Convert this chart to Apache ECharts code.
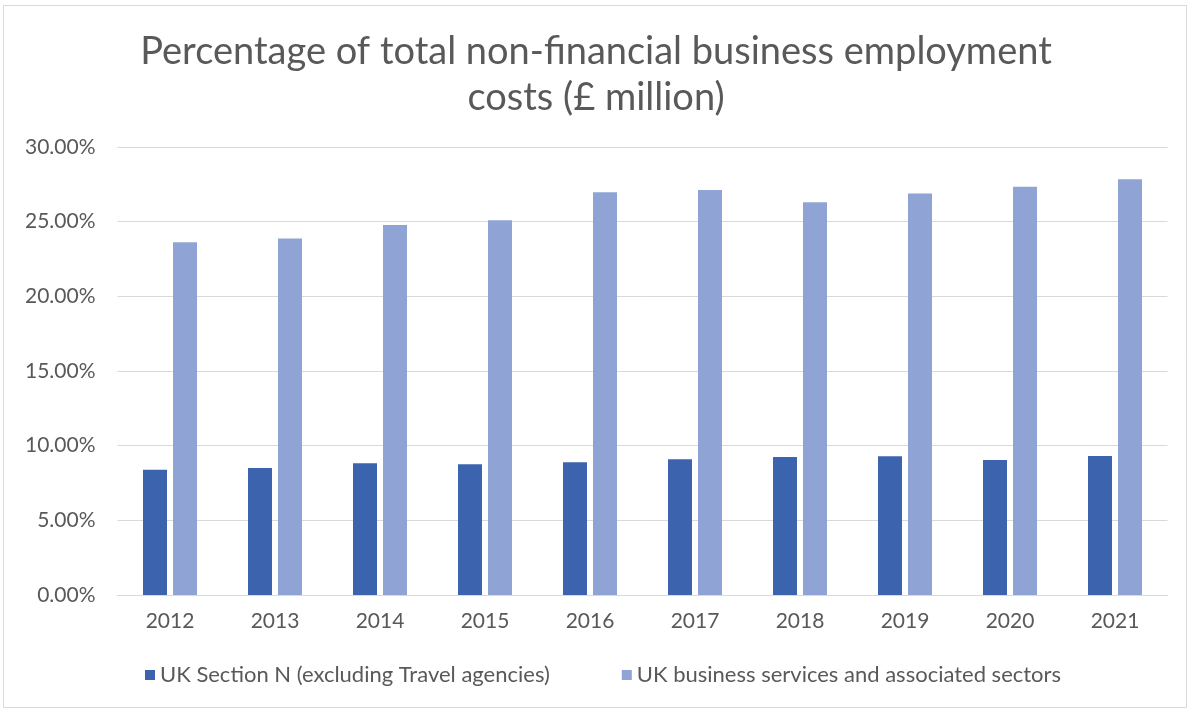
<!DOCTYPE html>
<html>
<head>
<meta charset="utf-8">
<script src="https://cdn.jsdelivr.net/npm/echarts@6/dist/echarts.min.js"></script>
<style>
  html, body { margin: 0; padding: 0; background: #fff; }
  #chart { width: 1192px; height: 713px; }
</style>
</head>
<body>
<div id="chart"></div>
<script>
// Years shown along the horizontal axis
const years = ['2012', '2013', '2014', '2015', '2016', '2017', '2018', '2019', '2020', '2021'];

// Share of total non-financial business employment costs (%)
const sectionN = [8.39, 8.51, 8.82, 8.75, 8.89, 9.09, 9.24, 9.29, 9.04, 9.31];
const businessServices = [23.62, 23.87, 24.78, 25.09, 26.97, 27.12, 26.30, 26.88, 27.33, 27.84];

const seriesNames = ['UK Section N (excluding Travel agencies)', 'UK business services and associated sectors'];
const titleText = 'Percentage of total non-financial business employment\ncosts (£ million)';

const textColor = '#595959';
const fontFamily = 'Lato, "Open Sans", sans-serif';

const chart = echarts.init(document.getElementById('chart'), null, { renderer: 'canvas' });

chart.setOption({
  backgroundColor: '#ffffff',
  animation: false,
  textStyle: { fontFamily: fontFamily, color: textColor },
  graphic: [{
    type: 'rect',
    shape: { x: 3.5, y: 5.5, width: 1183, height: 702 },
    style: { fill: 'none', stroke: '#d9d9d9', lineWidth: 1 },
    silent: true
  }],
  title: {
    text: titleText,
    left: 'center',
    top: 24,
    textStyle: {
      fontFamily: fontFamily,
      fontSize: 38,
      fontWeight: 'normal',
      color: textColor,
      lineHeight: 46
    }
  },
  legend: {
    bottom: 22,
    left: 140,
    itemWidth: 10,
    itemHeight: 10,
    itemGap: 72,
    icon: 'rect',
    textStyle: { fontFamily: fontFamily, fontSize: 22, color: textColor }
  },
  grid: {
    left: 117.5,
    right: 24.5,
    top: 147,
    bottom: 118,
    containLabel: false
  },
  xAxis: {
    type: 'category',
    data: years,
    axisLine: { lineStyle: { color: '#d9d9d9', width: 1 } },
    axisTick: { show: false },
    axisLabel: { fontSize: 21, color: textColor, margin: 16, fontFamily: fontFamily }
  },
  yAxis: {
    type: 'value',
    min: 0,
    max: 30,
    interval: 5,
    axisLine: { show: false },
    axisTick: { show: false },
    splitLine: { lineStyle: { color: '#d9d9d9', width: 1 } },
    axisLabel: {
      fontSize: 21,
      color: textColor,
      margin: 22,
      fontFamily: fontFamily,
      formatter: v => v.toFixed(2) + '%'
    }
  },
  series: [
    {
      name: seriesNames[0],
      type: 'bar',
      data: sectionN,
      barWidth: 24,
      barGap: '25%',
      itemStyle: { color: '#3c64ae' }
    },
    {
      name: seriesNames[1],
      type: 'bar',
      data: businessServices,
      barWidth: 24,
      barGap: '25%',
      itemStyle: { color: '#8fa4d4' }
    }
  ]
});
</script>
</body>
</html>
